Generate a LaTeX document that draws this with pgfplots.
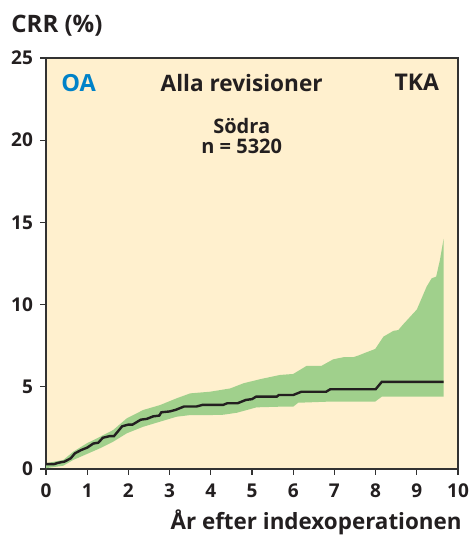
\documentclass[border=0pt]{standalone}
\usepackage{fontspec}
\setmainfont{Open Sans}
\usepackage{pgfplots}
\pgfplotsset{compat=1.18}
\usepgfplotslibrary{fillbetween}
\definecolor{bgy}{RGB}{255,240,206}
\definecolor{band}{RGB}{160,208,140}
\definecolor{oablue}{RGB}{0,130,200}
\definecolor{axc}{RGB}{50,50,50}
\definecolor{txt}{RGB}{35,31,32}
\begin{document}
\begin{tikzpicture}
\begin{axis}[
  name=ax,
  scale only axis, width=206pt, height=205.5pt,
  xmin=0, xmax=10, ymin=0, ymax=25,
  xtick={0,...,10}, ytick={0,5,...,25},
  tick align=outside, tick pos=left,
  major tick length=3pt,
  axis line style={axc, line width=0.75pt},
  every tick/.style={axc, line width=0.6pt},
  axis background/.style={fill=bgy},
  /pgf/number format/assume math mode=true,
  tick label style={font=\fontsize{9.5}{10}\selectfont\bfseries, text=txt},
  xticklabel style={yshift=-1pt},
  clip=false,
]
\addplot[name path=up, draw=none] coordinates {
(0,0.35) (0.42,0.55) (0.66,1.05) (0.99,1.56) (1.31,1.96) (1.63,2.37) (1.96,3.08)
(2.36,3.59) (2.77,3.89) (3.17,4.3) (3.5,4.6) (3.98,4.7) (4.47,4.9) (4.79,5.21)
(5.19,5.46) (5.68,5.72) (6.0,5.78) (6.33,6.28) (6.69,6.28) (6.97,6.67) (7.22,6.8)
(7.46,6.8) (7.58,6.9) (7.78,7.1) (7.99,7.3) (8.19,8.05) (8.43,8.4) (8.55,8.45)
(8.67,8.8) (9.0,9.7) (9.24,11.1) (9.36,11.6) (9.47,11.7) (9.56,12.7) (9.65,14.0)
};
\addplot[name path=lo, draw=none] coordinates {
(0,0.05) (0.42,0.2) (0.66,0.55) (0.99,0.91) (1.31,1.26) (1.63,1.66) (1.96,2.17)
(2.36,2.57) (2.77,2.88) (3.17,3.18) (3.5,3.28) (3.98,3.28) (4.3,3.3) (4.63,3.42)
(5.11,3.75) (5.68,3.79) (6.0,3.79) (6.12,4.03) (6.89,4.1) (7.99,4.1) (8.15,4.4) (9.65,4.4)
};
\addplot[band, draw=none] fill between[of=up and lo];
\addplot[txt, line width=1.2pt] coordinates {
(0,0.3) (0.2,0.3) (0.3,0.38) (0.45,0.45) (0.6,0.65) (0.7,0.95) (0.85,1.15) (1.0,1.3)
(1.15,1.55) (1.27,1.6) (1.38,1.9) (1.55,2.0) (1.65,2.0) (1.85,2.6) (2.0,2.7) (2.1,2.7)
(2.3,3.0) (2.45,3.05) (2.6,3.2) (2.75,3.25) (2.8,3.45) (3.0,3.5) (3.15,3.6) (3.35,3.8)
(3.65,3.8) (3.8,3.9) (4.3,3.9) (4.4,4.0) (4.65,4.0) (4.85,4.2) (5.0,4.25) (5.1,4.4)
(5.6,4.4) (5.65,4.5) (6.0,4.5) (6.2,4.7) (6.8,4.7) (6.9,4.85) (8.0,4.85) (8.15,5.3) (9.65,5.3)
};
\node[font=\fontsize{11.8}{12}\selectfont\bfseries, text=oablue] at (axis cs:0.79,23.5) {OA};
\node[font=\fontsize{11.3}{12}\selectfont\bfseries, text=txt] at (axis cs:4.75,23.5) {Alla revisioner};
\node[font=\fontsize{11.5}{12}\selectfont\bfseries, text=txt] at (axis cs:9.0,23.5) {TKA};
\node[anchor=base, inner sep=0pt, font=\fontsize{10}{10}\selectfont\bfseries, text=txt] at (axis cs:4.75,20.42) {Södra};
\node[anchor=base, inner sep=0pt, font=\fontsize{10}{10}\selectfont\bfseries, text=txt] at (axis cs:4.75,19.2) {n = 5320};
\end{axis}
\node[anchor=base west, inner sep=0pt, font=\fontsize{12}{12}\selectfont\bfseries, text=txt] at ([xshift=-17.5pt,yshift=12.5pt]ax.north west) {CRR (\%)};
\node[anchor=base east, inner sep=0pt, font=\fontsize{11.2}{12}\selectfont\bfseries, text=txt] at ([xshift=2pt,yshift=-30.2pt]ax.south east) {År efter indexoperationen};
\pgfresetboundingbox
\path[use as bounding box] ([xshift=-23pt,yshift=-34pt]ax.south west) rectangle ([xshift=7pt,yshift=29pt]ax.north east);
\end{tikzpicture}
\end{document}
